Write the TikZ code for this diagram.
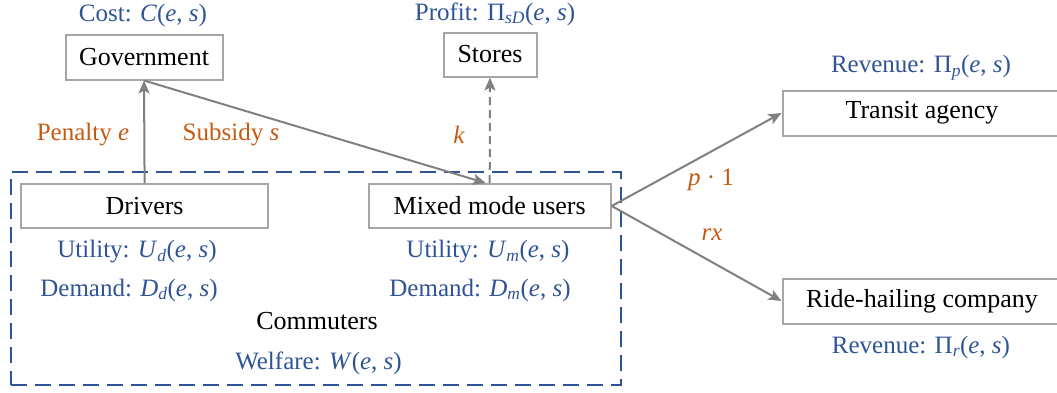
\documentclass[tikz,border=0pt]{standalone}
\usepackage{fontspec}
\setmainfont{Liberation Serif}
\usetikzlibrary{arrows.meta,calc}
\definecolor{lblblue}{RGB}{47,84,150}
\definecolor{lblorange}{RGB}{197,90,17}
\definecolor{arrgray}{RGB}{128,128,128}
\definecolor{boxgray}{RGB}{166,166,166}
\newcommand{\mv}[1]{\textit{#1}}
\newcommand{\sbx}[1]{$_{\mathit{#1}}$}
\newcommand{\es}{(\mv{e}, \mv{s})}
\begin{document}
\begin{tikzpicture}[x=1pt,y=-1pt,
  font=\fontsize{25}{30}\selectfont,
  box/.style={draw=boxgray,line width=2pt,minimum height=45pt,inner sep=0pt,font=\fontsize{26}{30}\selectfont},
  lbl/.style={text=lblblue,inner sep=0pt},
  flow/.style={text=lblorange,inner sep=0pt},
  conn/.style={draw=arrgray,line width=2pt,-{Stealth[length=13pt,width=11pt,inset=3pt]}},
  group/.style={draw=lblblue,line width=2pt,dash pattern=on 16pt off 8pt,inner sep=0pt}]
\useasboundingbox (0,0) rectangle (1057,392);
\clip (0,0) rectangle (1057,392);

% commuters group
\node[group,minimum width=610pt,minimum height=213pt] (comm) at (316,278.5) {};

% boxes
\node[box,minimum width=157pt] (gov) at (144,57) {Government};
\node[box,minimum width=93pt,minimum height=44pt] (stores) at (490,54.5) {Stores};
\node[box,minimum width=247pt,minimum height=44pt] (drivers) at (144.6,206) {Drivers};
\node[box,minimum width=242pt,minimum height=44pt] (mixed) at (489.7,206) {Mixed mode users};
\node[box,minimum width=279pt] (transit) at (922,113) {Transit agency};
\node[box,minimum width=279pt] (ride) at (922,301) {Ride-hailing company};

% labels
\node[lbl] (lgov) at (143,15) {Cost: \mv{C}\es};
\node[lbl] (lstores) at (495,14) {Profit: Π\sbx{sD}\es};
\node[lbl] (ltransit) at (921,68) {Revenue: Π\sbx{p}\es};
\node[lbl] (lride) at (921,347) {Revenue: Π\sbx{r}\es};
\node[lbl] (lud) at (137,252) {Utility: \mv{U}\sbx{d}\es};
\node[lbl] (ldd) at (129,290) {Demand: \mv{D}\sbx{d}\es};
\node[lbl] (lum) at (488,252) {Utility: \mv{U}\sbx{m}\es};
\node[lbl] (ldm) at (480,290) {Demand: \mv{D}\sbx{m}\es};
\node[inner sep=0pt,font=\fontsize{26}{30}\selectfont] (lcomm) at (317,321) {Commuters};
\node[lbl] (lwel) at (318.5,363) {Welfare: \mv{W}\es};

% flow labels
\node[flow] (fpen) at (83,135) {Penalty \mv{e}};
\node[flow] (fsub) at (231,135) {Subsidy \mv{s}};
\node[flow] (fk) at (459,135) {\mv{k}};
\node[flow] (fp) at (711,180) {\mv{p} · 1};
\node[flow] (frx) at (712,235) {\mv{rx}};

% connectors
\draw[conn] (drivers.north) -- (gov.south);
\draw[conn] (gov.south) -- ([xshift=-4pt]mixed.north);
\draw[conn,dash pattern=on 8pt off 5pt] (mixed.north) -- (stores.south);
\draw[conn] (mixed.east) -- (transit.west);
\draw[conn] (mixed.east) -- (ride.west);
\end{tikzpicture}
\end{document}
